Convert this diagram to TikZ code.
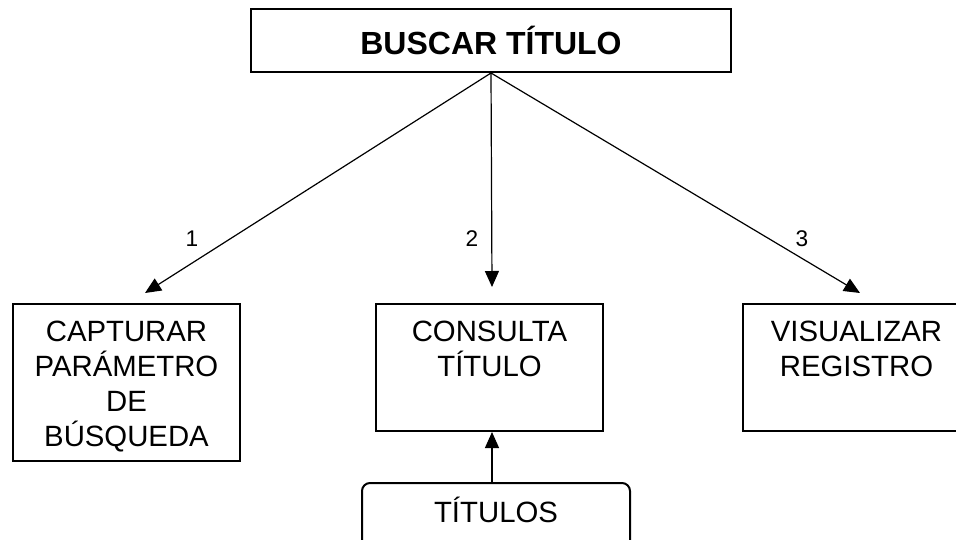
\documentclass[tikz,border=0pt]{standalone}
\usepackage{fontspec}
\setmainfont{Liberation Sans}
\usetikzlibrary{arrows.meta,positioning}

\begin{document}
\begin{tikzpicture}[x=0.75pt,y=-0.75pt,
    procbox/.style={draw,line width=1.5pt,inner sep=0pt},
    proctext/.style={anchor=north,align=center,inner sep=0pt,font=\fontsize{22}{26.3}\selectfont},
    flow/.style={line width=0.9pt,-{Triangle[length=12pt,width=10.5pt]}},
    stepnum/.style={inner sep=0pt,font=\fontsize{17}{20}\selectfont}]
      \clip (0,0) rectangle (956,539);
      \node[procbox,minimum width=360pt,minimum height=47.25pt,font=\bfseries\fontsize{24}{29}\selectfont] (buscar) at (491,40.5) {BUSCAR TÍTULO};
      \node[procbox,minimum width=170.25pt,minimum height=117.75pt] (capturar) at (126.5,382.5) {};
      \node[procbox,minimum width=170.25pt,minimum height=95.25pt] (consulta) at (489.5,367.5) {};
      \node[procbox,minimum width=170.25pt,minimum height=95.25pt] (visualizar) at (856.5,367.5) {};
      \node[procbox,rounded corners=6pt,minimum width=201pt,minimum height=60pt] (titulos) at (496,523) {};
      \node[proctext] (capturartxt) at ([yshift=-13.5pt]capturar.north) {CAPTURAR\\PARÁMETRO\\DE\\BÚSQUEDA};
      \node[proctext] (consultatxt) at ([yshift=-13.5pt]consulta.north) {CONSULTA\\TÍTULO};
      \node[proctext] (visualizartxt) at ([yshift=-13.5pt]visualizar.north) {VISUALIZAR\\REGISTRO};
      \node[proctext,anchor=base] (titulostxt) at (496,522) {TÍTULOS};
      \coordinate (tip1) at (145,293);
      \coordinate (tip2) at (492,287);
      \coordinate (tip3) at (860,293);
      \draw[flow] (buscar.south) -- (tip1);
      \draw[flow] (buscar.south) -- (tip2);
      \draw[flow] (buscar.south) -- (tip3);
      \draw[flow] (titulos.north -| tip2) -- (consulta.south -| tip2);
      \node[stepnum] (n1) at (192,239) {1};
      \node[stepnum] (n2) at (472,239) {2};
      \node[stepnum] (n3) at (802,239) {3};
    \end{tikzpicture}
\end{document}
